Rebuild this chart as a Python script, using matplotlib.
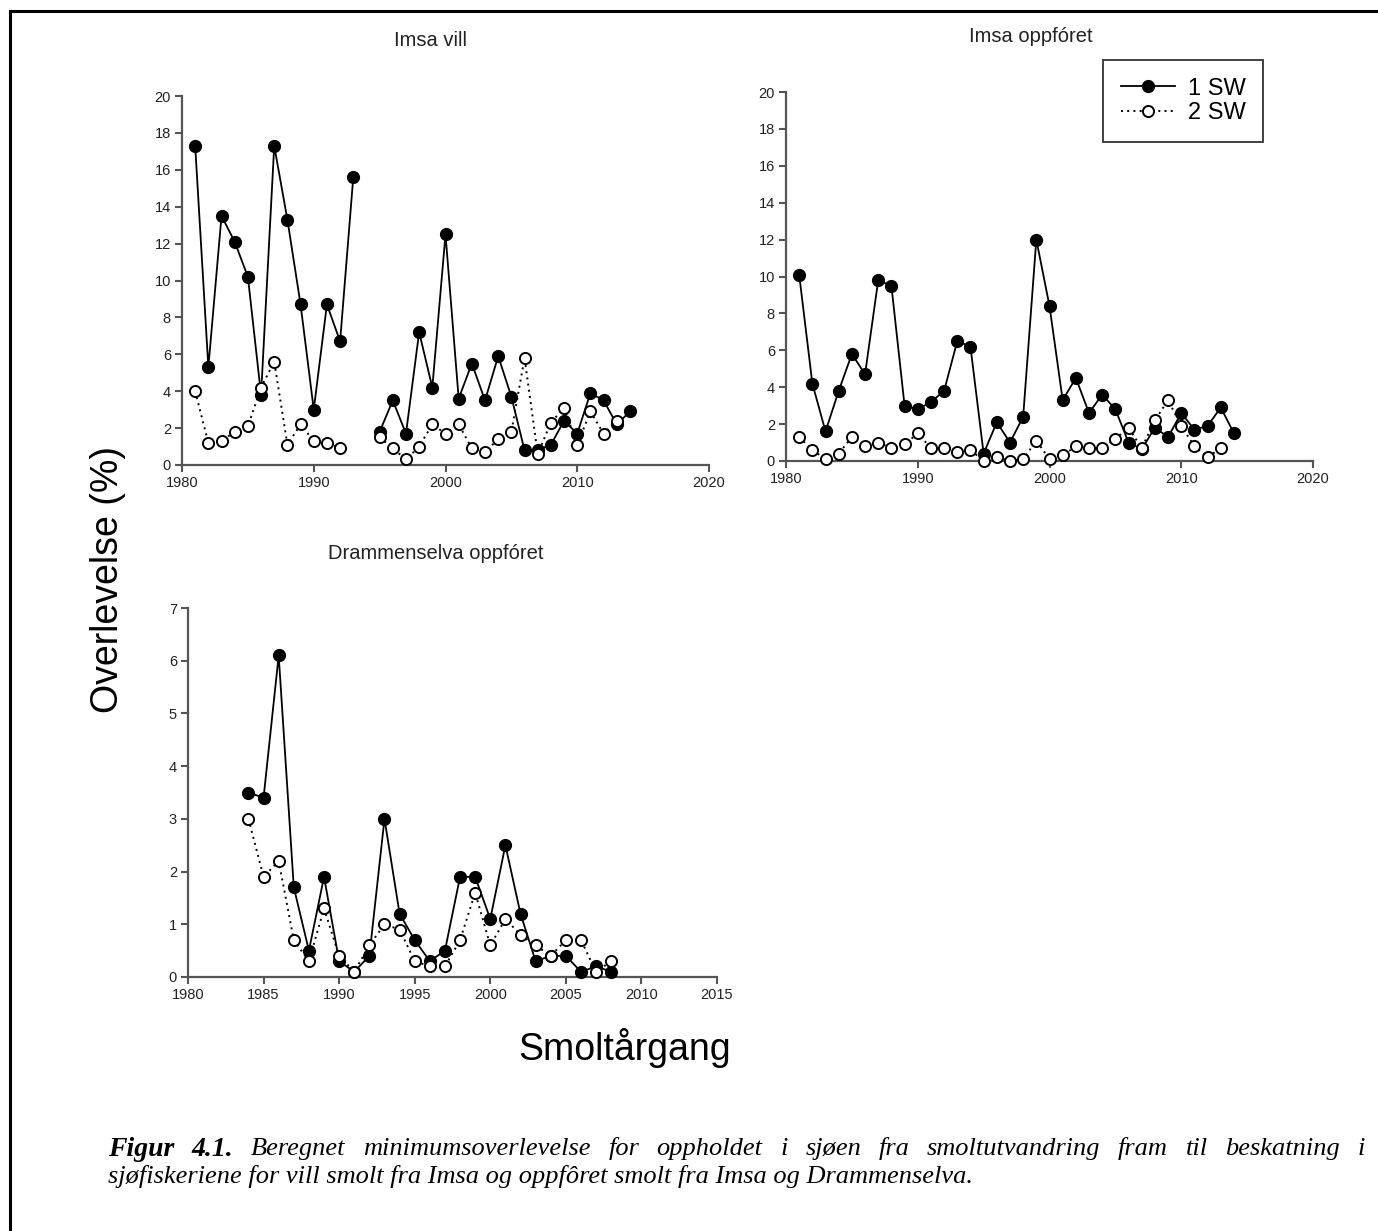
import numpy as np
import matplotlib
matplotlib.use("Agg")
import matplotlib.pyplot as plt
from matplotlib.lines import Line2D

plt.rcParams['font.family'] = ['Liberation Sans', 'DejaVu Sans']

# Imsa vill (1981-2014)
vill_years = np.arange(1981, 2015)
vill_1sw = [17.3, 5.3, 13.5, 12.1, 10.2, 3.8, 17.3, 13.3, 8.7, 3.0, 8.7, 6.7, 15.6, np.nan,
            1.8, 3.5, 1.7, 7.2, 4.2, 12.5, 3.6, 5.5, 3.5, 5.9, 3.7, 0.8, 0.8, 1.1, 2.4, 1.7,
            3.9, 3.5, 2.2, 2.9]
vill_2sw = [4.0, 1.2, 1.3, 1.8, 2.1, 4.2, 5.6, 1.1, 2.2, 1.3, 1.2, 0.9, np.nan, np.nan,
            1.5, 0.9, 0.3, 1.0, 2.2, 1.7, 2.2, 0.9, 0.7, 1.4, 1.8, 5.8, 0.6, 2.3, 3.1, 1.1,
            2.9, 1.7, 2.4, np.nan]

# Imsa oppfóret (1981-2014)
oppf_years = np.arange(1981, 2015)
oppf_1sw = [10.1, 4.2, 1.6, 3.8, 5.8, 4.7, 9.8, 9.5, 3.0, 2.8, 3.2, 3.8, 6.5, 6.2,
            0.4, 2.1, 1.0, 2.4, 12.0, 8.4, 3.3, 4.5, 2.6, 3.6, 2.8, 1.0, 0.65, 1.8, 1.3, 2.6,
            1.7, 1.9, 2.9, 1.5]
oppf_2sw = [1.3, 0.6, 0.1, 0.4, 1.3, 0.8, 1.0, 0.7, 0.9, 1.5, 0.7, 0.7, 0.5, 0.6,
            0.0, 0.2, 0.0, 0.1, 1.1, 0.1, 0.3, 0.8, 0.7, 0.7, 1.2, 1.8, 0.7, 2.2, 3.3, 1.9,
            0.8, 0.2, 0.7, np.nan]

# Drammenselva oppfóret (1984-2008)
dram_years = np.arange(1984, 2009)
dram_1sw = [3.5, 3.4, 6.1, 1.7, 0.5, 1.9, 0.3, 0.1, 0.4, 3.0, 1.2, 0.7, 0.3, 0.5,
            1.9, 1.9, 1.1, 2.5, 1.2, 0.3, 0.4, 0.4, 0.1, 0.2, 0.1]
dram_2sw = [3.0, 1.9, 2.2, 0.7, 0.3, 1.3, 0.4, 0.1, 0.6, 1.0, 0.9, 0.3, 0.2, 0.2,
            0.7, 1.6, 0.6, 1.1, 0.8, 0.6, 0.4, 0.7, 0.7, 0.1, 0.3]

W, H = 1378, 1231
fig = plt.figure(figsize=(W / 100, H / 100), dpi=100)


def box(x0, y0, x1, y1):
    # pixel box (top-left origin) -> figure fraction rect
    return [x0 / W, 1 - y1 / H, (x1 - x0) / W, (y1 - y0) / H]


spine_col = '#555555'


def panel(rect, years, s1, s2, xlim, xticks, ylim, yticks):
    ax = fig.add_axes(rect)
    ax.plot(years, s1, '-', color='black', lw=1.3, marker='o', ms=8.5,
            mfc='black', mec='black', clip_on=False, zorder=3)
    ax.plot(years, s2, color='black', lw=1.4, ls=(0, (1, 2.2)), marker='o', ms=8,
            mfc='white', mec='black', mew=1.4, clip_on=False, zorder=4)
    ax.set_xlim(*xlim)
    ax.set_ylim(*ylim)
    ax.set_xticks(xticks)
    ax.set_yticks(yticks)
    for s in ['top', 'right']:
        ax.spines[s].set_visible(False)
    for s in ['left', 'bottom']:
        ax.spines[s].set_color(spine_col)
        ax.spines[s].set_linewidth(1.6)
    ax.tick_params(direction='out', length=5, width=1.5, color=spine_col,
                   labelsize=10.5, labelcolor='#222222', pad=3)
    return ax


ax1 = panel(box(182, 96, 709, 465), vill_years, vill_1sw, vill_2sw,
            (1980, 2020), range(1980, 2021, 10), (0, 20), range(0, 21, 2))
ax2 = panel(box(786, 92, 1313, 461), oppf_years, oppf_1sw, oppf_2sw,
            (1980, 2020), range(1980, 2021, 10), (0, 20), range(0, 21, 2))
ax3 = panel(box(188, 608, 717, 977), dram_years, dram_1sw, dram_2sw,
            (1980, 2015), range(1980, 2016, 5), (0, 7), range(0, 8))

fig.text(430 / W, 1 - 40 / H, 'Imsa vill', ha='center', va='center', fontsize=14.5, color='#222222')
fig.text(1031 / W, 1 - 37 / H, 'Imsa oppfóret', ha='center', va='center', fontsize=14.5, color='#222222')
fig.text(436 / W, 1 - 553 / H, 'Drammenselva oppfóret', ha='center', va='center', fontsize=14.5, color='#222222')

fig.text(108 / W, 1 - 580 / H, 'Overlevelse (%)', rotation=90, ha='center', va='center',
         fontsize=27, color='black')
fig.text(625 / W, 1 - 1048 / H, 'Smoltårgang', ha='center', va='center', fontsize=27, color='black')

handles = [Line2D([], [], color='black', lw=1.3, marker='o', ms=8.5, mfc='black'),
           Line2D([], [], color='black', lw=1.4, ls=(0, (1, 2.2)), marker='o', ms=8,
                  mfc='white', mew=1.4)]
leg = fig.legend(handles, ['1 SW', '2 SW'], loc='upper left',
                 bbox_to_anchor=(1103 / W, 1 - 60 / H), fontsize=17, frameon=True,
                 fancybox=False, handlelength=2.3, labelspacing=0.1, borderpad=0.75,
                 handletextpad=0.55, borderaxespad=0)
leg.get_frame().set_edgecolor('black')
leg.get_frame().set_linewidth(1.3)

# frame (only top and left edges are visible in the crop)
fig.add_artist(Line2D([10 / W, 10 / W], [0, 1 - 11 / H], color='black', lw=2.2))
fig.add_artist(Line2D([10 / W, 1], [1 - 11 / H, 1 - 11 / H], color='black', lw=2.2))

# caption
cap_font = ['Liberation Serif', 'DejaVu Serif']
line1 = [('Figur', True), ('4.1.', True)] + [(w, False) for w in
         'Beregnet minimumsoverlevelse for oppholdet i sjøen fra smoltutvandring fram til beskatning i'.split()]
line2 = 'sjøfiskeriene for vill smolt fra Imsa og oppfôret smolt fra Imsa og Drammenselva.'
cap_size = 19

fig.canvas.draw()
renderer = fig.canvas.get_renderer()
texts = []
widths = []
for word, bold in line1:
    t = fig.text(0, 1 - 1149 / H, word, fontsize=cap_size + (1 if bold else 0), style='italic',
                 weight='bold' if bold else 'normal', family=cap_font, va='center')
    texts.append(t)
    widths.append(t.get_window_extent(renderer).width)
x0, x1 = 108, 1365
gap = (x1 - x0 - sum(widths)) / (len(widths) - 1)
x = x0
for t, w in zip(texts, widths):
    t.set_x(x / W)
    x += w + gap

fig.text(108 / W, 1 - 1177 / H, line2, fontsize=cap_size, style='italic',
         family=cap_font, va='center')

fig.savefig('out.png', dpi=100)
